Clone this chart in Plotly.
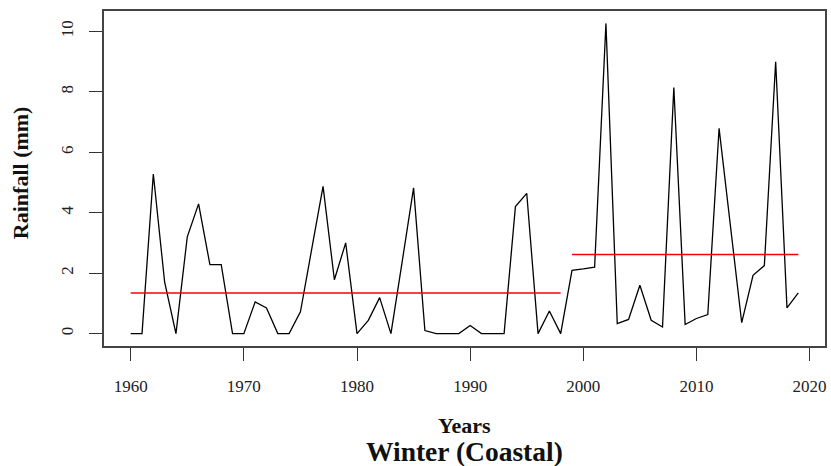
import plotly.graph_objects as go

years = list(range(1960, 2020))
rainfall = [
    0.0, 0.0, 5.28, 1.7, 0.0, 3.2, 4.29, 2.28, 2.28, 0.0,      # 1960-1969
    0.0, 1.05, 0.85, 0.0, 0.0, 0.72, 2.8, 4.87, 1.78, 3.0,     # 1970-1979
    0.0, 0.44, 1.19, 0.0, 2.4, 4.82, 0.1, 0.0, 0.0, 0.0,       # 1980-1989
    0.27, 0.0, 0.0, 0.0, 4.2, 4.64, 0.0, 0.75, 0.0, 2.09,      # 1990-1999
    2.14, 2.2, 10.26, 0.33, 0.47, 1.6, 0.44, 0.22, 8.14, 0.3,  # 2000-2009
    0.5, 0.63, 6.79, 3.57, 0.36, 1.93, 2.25, 8.99, 0.85, 1.35, # 2010-2019
]

# segment means (red lines)
seg_years = [[1960, 1998], [1999, 2019]]
seg_means = [1.34, 2.62]

x_ticks = [1960, 1970, 1980, 1990, 2000, 2010, 2020]
y_ticks = [0, 2, 4, 6, 8, 10]

FONT = "Liberation Serif, Times New Roman, serif"

fig = go.Figure()
fig.add_trace(go.Scatter(x=years, y=rainfall, mode="lines",
                         line=dict(color="black", width=1.3), showlegend=False))
for (a, b), m in zip(seg_years, seg_means):
    fig.add_trace(go.Scatter(x=[a, b], y=[m, m], mode="lines",
                             line=dict(color="red", width=1.5), showlegend=False))

axis_common = dict(showgrid=False, zeroline=False, showline=True, mirror=True,
                   linecolor="#444", linewidth=1.5, ticks="outside", ticklen=13,
                   tickwidth=1.3, tickcolor="#333",
                   tickfont=dict(family=FONT, size=17, color="#222"))

fig.update_xaxes(range=[1957.64, 2021.36], tickvals=x_ticks,
                 ticklabelstandoff=11, **axis_common)
fig.update_yaxes(range=[-0.41, 10.67], tickvals=y_ticks, tickangle=-90,
                 ticklabelstandoff=9, **axis_common)

fig.update_layout(
    width=831, height=466,
    margin=dict(l=104, r=4, t=11, b=120),
    plot_bgcolor="white", paper_bgcolor="white",
    font=dict(family=FONT, color="#111"),
    annotations=[
        dict(text="<b>Years</b>", xref="paper", yref="paper", x=0.5, y=-0.238,
             xanchor="center", yanchor="middle", showarrow=False,
             font=dict(family=FONT, size=22, color="#111")),
        dict(text="<b>Winter (Coastal)</b>", xref="paper", yref="paper", x=0.5, y=-0.316,
             xanchor="center", yanchor="middle", showarrow=False,
             font=dict(family=FONT, size=27.5, color="#111")),
        dict(text="<b>Rainfall (mm)</b>", xref="paper", yref="paper", x=-0.1165, y=0.516,
             xanchor="center", yanchor="middle", showarrow=False, textangle=-90,
             font=dict(family=FONT, size=22, color="#111")),
    ],
)

fig.write_html("out.html")
